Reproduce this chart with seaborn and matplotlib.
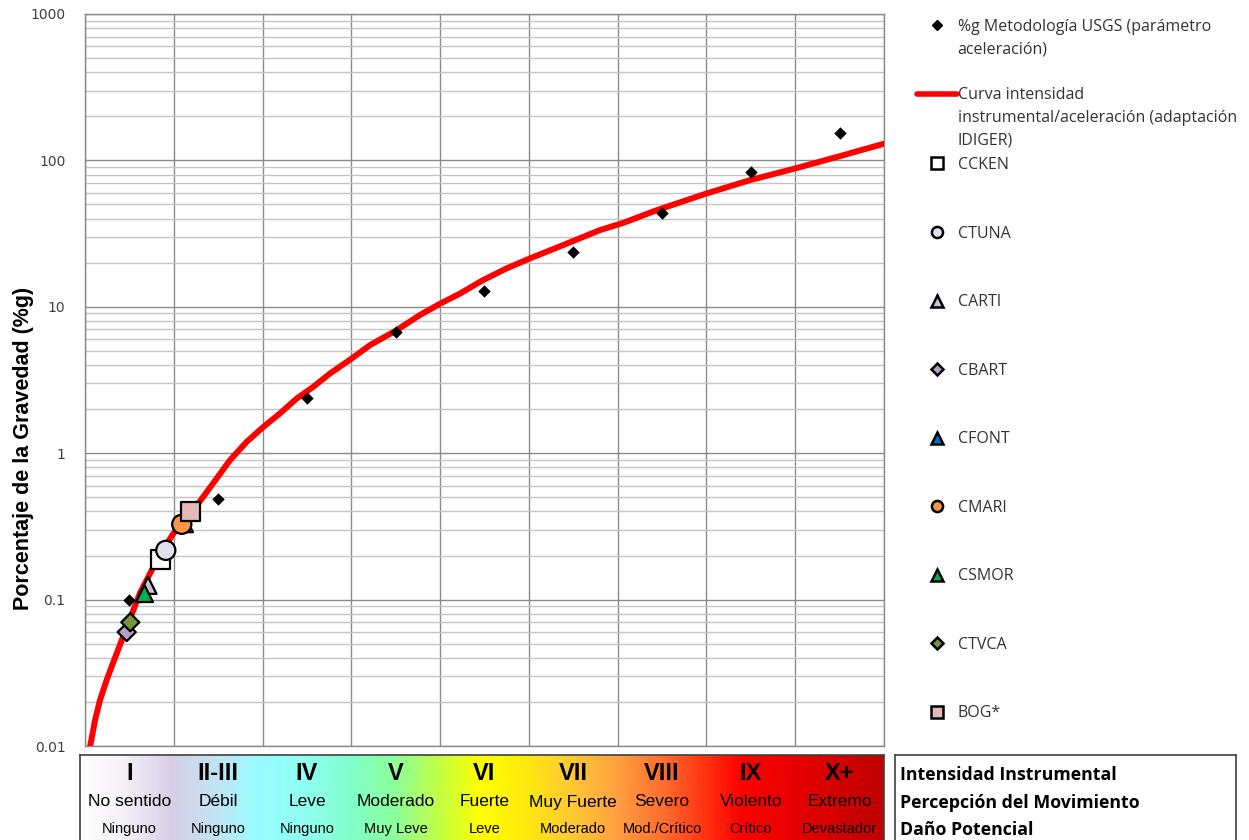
import numpy as np
import pandas as pd
import matplotlib
matplotlib.use("Agg")
import matplotlib.pyplot as plt
import seaborn as sns
from matplotlib.colors import LinearSegmentedColormap
from matplotlib.lines import Line2D
from matplotlib.ticker import FixedLocator, NullFormatter, FuncFormatter

# Datos
usgs_intensidad = [1.5, 2.5, 3.5, 4.5, 5.5, 6.5, 7.5, 8.5, 9.5]
usgs_pct_g = [0.10, 0.49, 2.4, 6.7, 12.8, 23.7, 43.5, 83.5, 154]

curva_intensidad = [1.056, 1.113, 1.169, 1.244, 1.315, 1.47, 1.62, 1.81, 1.99, 2.295,
                    2.445, 2.633, 2.821, 3.008, 3.196, 3.384, 3.571, 3.759, 4.003, 4.21,
                    4.51, 4.77, 5.0, 5.223, 5.482, 5.749, 6.011, 6.386, 6.80, 7.062,
                    7.44, 8.0, 8.49, 9.0, 9.5, 10.0]
curva_pct_g = [0.0098, 0.015, 0.0206, 0.0282, 0.0368, 0.0648, 0.111, 0.186, 0.28, 0.47,
               0.625, 0.896, 1.195, 1.51, 1.87, 2.36, 2.84, 3.50, 4.43, 5.47,
               6.92, 8.77, 10.5, 12.3, 15.2, 18.3, 21.4, 26.4, 33.4, 37.4,
               45.7, 59.4, 73.3, 88.1, 106.8, 130]

estaciones = ["CCKEN", "CTUNA", "CARTI", "CBART", "CFONT", "CMARI", "CSMOR", "CTVCA", "BOG*"]
est_intensidad = [1.85, 1.91, 1.71, 1.47, 2.12, 2.09, 1.67, 1.51, 2.19]
est_pct_g = [0.189, 0.217, 0.125, 0.060, 0.330, 0.327, 0.110, 0.070, 0.40]
est_colores = ["#ffffff", "#e4dfec", "#ccc0da", "#b3a2c7", "#0070c0",
               "#f79646", "#00b050", "#77933c", "#e6b9b8"]
est_marcadores = ["s", "o", "^", "D", "^", "o", "^", "D", "s"]

niveles = ["I", "II-III", "IV", "V", "VI", "VII", "VIII", "IX", "X+"]
percepcion = ["No sentido", "Débil", "Leve", "Moderado", "Fuerte", "Muy Fuerte",
              "Severo", "Violento", "Extremo"]
dano = ["Ninguno", "Ninguno", "Ninguno", "Muy Leve", "Leve", "Moderado",
        "Mod./Crítico", "Crítico", "Devastador"]

sns.set_style("white")
plt.rcParams["font.family"] = ["Liberation Sans", "DejaVu Sans"]

W, H = 1249, 840
fig = plt.figure(figsize=(W / 100, H / 100), dpi=100)


def fx(px):
    return px / W


def fy(py):
    return 1 - py / H


ax = fig.add_axes([fx(85), fy(746), fx(884 - 85), (746 - 14) / H])

# curva y puntos
sns.lineplot(x=curva_intensidad, y=curva_pct_g, color="#ff0000", lw=4.3, ax=ax, zorder=3)
sns.scatterplot(x=usgs_intensidad, y=usgs_pct_g, marker="D", color="black", s=40,
                linewidth=0, ax=ax, zorder=4)

df = pd.DataFrame({"estacion": estaciones, "intensidad": est_intensidad, "pct_g": est_pct_g})
paleta = dict(zip(estaciones, est_colores))
marcas = dict(zip(estaciones, est_marcadores))
tamanos = {"s": 190, "o": 190, "^": 150, "D": 85}
sizes = {e: tamanos[m] for e, m in zip(estaciones, est_marcadores)}
sns.scatterplot(data=df, x="intensidad", y="pct_g", hue="estacion", style="estacion",
                size="estacion", palette=paleta, markers=marcas, sizes=sizes,
                edgecolor="black", linewidth=1.6, legend=False, ax=ax, zorder=5)

ax.set_yscale("log")
ax.set_xlim(1, 10)
ax.set_ylim(0.01, 1000)
ax.xaxis.set_major_locator(FixedLocator(range(1, 11)))
ax.xaxis.set_major_formatter(NullFormatter())
ax.tick_params(axis="x", length=0)
ax.yaxis.set_major_locator(FixedLocator([0.01, 0.1, 1, 10, 100, 1000]))
ax.yaxis.set_major_formatter(FuncFormatter(lambda v, p: f"{v:g}"))
menores = [m * 10.0 ** e for e in range(-2, 3) for m in range(2, 10)]
ax.yaxis.set_minor_locator(FixedLocator(menores))
ax.yaxis.set_minor_formatter(NullFormatter())
ax.tick_params(axis="y", which="major", length=4, width=1, color="#868686",
               labelsize=10, labelcolor="#404040", pad=10)
ax.tick_params(axis="y", which="minor", length=0)
for lab in ax.get_yticklabels():
    lab.set_family("DejaVu Sans")
ax.grid(True, which="major", color="#8a8a8a", lw=1)
ax.grid(True, which="minor", axis="y", color="#c4c4c4", lw=1)
for sp in ax.spines.values():
    sp.set_color("#8a8a8a")
    sp.set_linewidth(1)
ax.set_xlabel("")
ax.set_ylabel("Porcentaje de la Gravedad (%g)", fontsize=15.5, fontweight="bold",
              color="black")
ax.yaxis.set_label_coords((34 - 85) / 799, (746 - 448) / 732)

# barra de colores de intensidad
x0 = 1 - 5 / 88.8
bax = fig.add_axes([fx(80), 0, fx(884 - 80), (840 - 755) / H])
paradas = [(x0, "#ffffff"), (1.4, "#f5f2f8"), (1.95, "#d9cfe6"), (2.5, "#bfe6f4"),
           (2.9, "#99fbff"), (3.5, "#8ffff0"), (4.0, "#80ffc8"), (4.5, "#8cff99"),
           (5.0, "#c4ff40"), (5.45, "#ffff00"), (6.0, "#ffe810"), (6.5, "#ffc833"),
           (7.0, "#ffa040"), (7.5, "#ff7030"), (8.0, "#ff3311"), (8.4, "#ff0000"),
           (10.0, "#c00000")]
pos = [(p - x0) / (10 - x0) for p, c in paradas]
pos[0], pos[-1] = 0.0, 1.0
cmap = LinearSegmentedColormap.from_list("mmi", list(zip(pos, [c for p, c in paradas])))
bax.imshow(np.linspace(0, 1, 600)[None, :], cmap=cmap, aspect="auto",
           extent=[x0, 10, 0, 1])
bax.set_xlim(x0, 10)
bax.set_ylim(0, 1)
bax.set_xticks([])
bax.set_yticks([])
for lado, sp in bax.spines.items():
    sp.set_color("#404040")
    sp.set_linewidth(1.2)
bax.spines["bottom"].set_visible(False)
for i in range(len(niveles)):
    xc = 1.5 + i
    bax.text(xc, (840 - 773) / 85, niveles[i], ha="center", va="center",
             fontsize=17, fontweight="bold", color="black")
    bax.text(xc, (840 - 802) / 85, percepcion[i], ha="center", va="center",
             fontsize=12.5, color="black")
    bax.text(xc, (840 - 829) / 85, dano[i], ha="center", va="center",
             fontsize=10.5, color="black")

# caja de descripcion
cax = fig.add_axes([fx(895), 0, fx(1236 - 895), (840 - 755) / H])
cax.set_xticks([])
cax.set_yticks([])
for lado, sp in cax.spines.items():
    sp.set_color("#404040")
    sp.set_linewidth(1.2)
cax.spines["bottom"].set_visible(False)
for txt, py in zip(["Intensidad Instrumental", "Percepción del Movimiento", "Daño Potencial"],
                   [775, 803, 830]):
    cax.text(5 / 341, (840 - py) / 85, txt, ha="left", va="center", fontsize=12.8,
             fontweight="bold", family="Open Sans", color="black")

# leyendas
prop = {"family": "Open Sans", "size": 11.5}
vacio = Line2D([], [], linestyle="none")
h1 = [Line2D([], [], linestyle="none", marker="D", color="black", markersize=5),
      vacio, vacio,
      Line2D([], [], color="#ff0000", lw=4),
      vacio, vacio]
l1 = ["%g Metodología USGS (parámetro", "aceleración)", " ", "Curva intensidad",
      "instrumental/aceleración (adaptación", "IDIGER)"]
leg1 = fig.legend(h1, l1, loc="upper left", bbox_to_anchor=(fx(917), fy(19)),
                  frameon=False, borderpad=0, borderaxespad=0, handlelength=2.5,
                  handletextpad=0.05, labelspacing=0.42, prop=prop, labelcolor="#333333")

h2 = []
for e, c, m in zip(estaciones, est_colores, est_marcadores):
    ms = {"s": 8, "o": 8, "^": 8.5, "D": 6}[m]
    h2.append(Line2D([], [], linestyle="none", marker=m, markerfacecolor=c,
                     markeredgecolor="black", markeredgewidth=1.8, markersize=ms))
leg2 = fig.legend(h2, estaciones, loc="upper left", bbox_to_anchor=(fx(917), fy(157)),
                  frameon=False, borderpad=0, borderaxespad=0, handlelength=2.5,
                  handletextpad=0.05, labelspacing=3.29, prop=prop, labelcolor="#333333")

fig.savefig("out.png", dpi=100)
